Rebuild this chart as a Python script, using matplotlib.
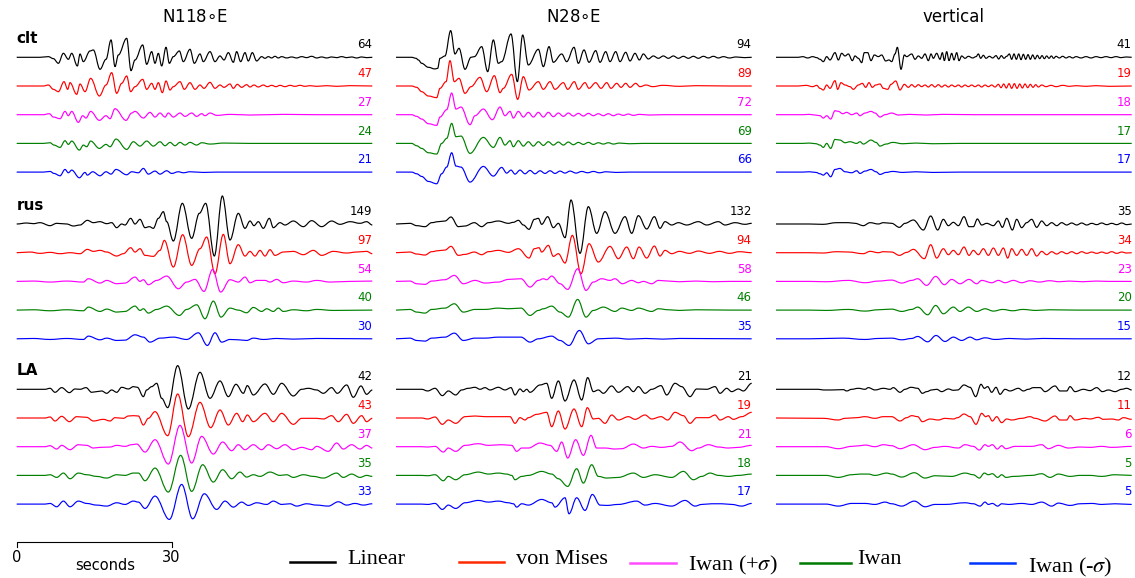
import matplotlib.pyplot as plt
from matplotlib.path import Path
from matplotlib.patches import PathPatch
from matplotlib.lines import Line2D

FS = 15.5          # digitised samples per second
N_SAMPLES = 1067   # samples per trace (about 69 s)

components = [r'N118$\circ$E', r'N28$\circ$E', 'vertical']
stations = ['clt', 'rus', 'LA']
models = ['Linear', 'von Mises', r'Iwan (+$\sigma$)', 'Iwan', r'Iwan (-$\sigma$)']

# peak values written at the right end of each trace: [component][model]
peaks_clt = [[64, 47, 27, 24, 21], [94, 89, 72, 69, 66], [41, 19, 18, 17, 17]]
peaks_rus = [[149, 97, 54, 40, 30], [132, 94, 58, 46, 35], [35, 34, 23, 20, 15]]
peaks_la = [[42, 43, 37, 35, 33], [21, 19, 21, 18, 17], [12, 11, 6, 5, 5]]

# digitised traces: (sample index, relative amplitude)
# ---- clt, N118E
clt_n118e_lin = [(0,0),(70,0),(95,2),(110,-4),(125,-18),(140,12),(155,-6),(165,12),(182,-26),(190,10),(200,-13),(220,19),(230,22),(250,-36),(268,-6),(283,52),(295,-28),(305,7),(330,57),(343,-40),(355,-8),(378,37),(390,-21),(405,17),(415,-18),(425,12),(435,-26),(448,30),(458,-18),(470,2),(488,19),(500,-13),(520,24),(533,-18),(550,10),(560,-13),(580,17),(595,-13),(610,4),(622,-8),(635,14),(650,-15),(660,17),(672,-13),(685,14),(695,-11),(707,14),(720,-11),(735,2),(745,-3),(755,2),(765,-2),(775,3),(785,-2),(795,2),(810,-2),(825,1),(840,-2),(855,2),(870,-1),(885,3),(900,-2),(915,1),(930,-2),(945,1),(960,-1),(975,2),(990,-1),(1005,1),(1020,-2),(1035,1),(1050,-1),(1067,0)]
clt_n118e_vm = [(0,0),(80,0),(95,3),(110,-10),(125,-17),(142,13),(153,-10),(160,10),(180,-25),(190,6),(205,-17),(222,23),(248,-30),(268,3),(285,40),(300,-22),(315,8),(330,30),(342,-17),(355,-2),(378,20),(390,-10),(405,8),(415,-10),(425,10),(437,-20),(448,15),(460,-12),(470,-2),(490,13),(503,-10),(520,10),(535,-10),(550,3),(562,-7),(580,11),(595,-7),(610,3),(622,-4),(640,6),(650,-7),(662,5),(675,-4),(690,4),(700,-3),(712,3),(725,-3),(740,3),(752,-2),(765,2),(778,-2),(790,2),(805,-2),(820,2),(835,-1),(850,2),(865,-1),(880,1),(900,-1),(930,1),(960,-1),(1000,1),(1067,0)]
clt_n118e_iwp = [(0,0),(80,0),(98,3),(110,-7),(130,-12),(145,10),(155,-3),(165,10),(185,-23),(198,-3),(208,-10),(222,10),(248,-17),(268,-3),(280,-12),(295,18),(328,-17),(345,5),(355,10),(380,-10),(400,7),(415,-7),(430,5),(445,-7),(455,5),(470,-7),(490,5),(505,-5),(525,5),(540,-5),(555,3),(565,-3),(580,5),(600,-2),(640,1),(700,-1),(800,1),(900,0),(1067,0)]
clt_n118e_iw = [(0,0),(80,0),(100,2),(112,-5),(130,-12),(145,8),(155,-3),(165,7),(188,-20),(200,-5),(210,-10),(222,7),(248,-15),(268,-3),(280,-10),(298,13),(330,-18),(350,5),(370,-8),(390,7),(410,-8),(430,5),(445,-7),(460,3),(475,-7),(490,3),(505,-5),(520,3),(540,-5),(555,2),(580,-2),(620,1),(700,0),(1067,0)]
clt_n118e_iwm = [(0,0),(80,0),(100,2),(112,-4),(130,-11),(145,8),(155,-2),(165,6),(188,-17),(205,-1),(212,-9),(228,1),(250,-11),(268,1),(283,-6),(298,8),(330,-8),(345,1),(365,-2),(380,11),(395,-6),(415,3),(430,-6),(450,4),(465,-4),(485,1),(500,-2),(520,1),(560,-1),(600,0),(1067,0)]
# ---- clt, N28E
clt_n28e_lin = [(0,0),(47,0),(60,-3),(67,-8),(77,-18),(97,-30),(117,-35),(125,-33),(132,-3),(147,4),(164,80),(177,10),(189,27),(207,-36),(225,0),(235,2),(257,32),(275,-43),(292,52),(307,-18),(317,-13),(345,70),(364,-73),(380,67),(397,-23),(427,24),(442,-28),(459,32),(472,-15),(497,10),(512,-13),(534,30),(547,-18),(564,22),(579,-15),(599,20),(612,-15),(629,17),(642,-13),(659,17),(672,-13),(689,15),(702,-11),(717,12),(730,-8),(742,10),(757,-5),(772,4),(787,-3),(802,4),(817,-3),(832,4),(847,-3),(862,3),(877,-3),(892,3),(907,-3),(922,3),(937,-2),(952,3),(967,-2),(982,2),(1000,-2),(1020,1),(1045,-1),(1067,0)]
clt_n28e_vm = [(0,0),(47,0),(62,-4),(77,-17),(97,-30),(122,-35),(132,-7),(150,13),(162,76),(175,13),(189,23),(207,-22),(225,-2),(252,26),(272,-17),(295,31),(312,-20),(322,-7),(347,35),(365,-40),(382,28),(399,-12),(427,13),(442,-10),(462,13),(477,-10),(502,10),(515,-10),(535,13),(547,-10),(567,10),(579,-7),(599,10),(615,-7),(632,10),(645,-7),(662,8),(675,-4),(689,8),(702,-4),(719,8),(732,-2),(750,3),(770,-2),(800,2),(850,-1),(900,1),(1000,0),(1067,0)]
clt_n28e_iwp = [(0,0),(47,0),(62,-5),(77,-13),(97,-27),(122,-32),(132,-7),(152,15),(167,65),(180,17),(195,23),(222,-30),(237,-3),(262,17),(289,-15),(312,23),(327,-3),(342,10),(352,-10),(367,10),(382,-7),(397,7),(412,-7),(427,7),(442,-7),(457,7),(472,-6),(487,5),(502,-5),(517,5),(532,-4),(547,4),(562,-4),(577,4),(592,-3),(607,3),(622,-3),(637,3),(652,-3),(667,2),(682,-2),(697,2),(712,-2),(730,1),(760,-1),(800,0),(1067,0)]
clt_n28e_iw = [(0,0),(47,0),(62,-7),(77,-15),(97,-28),(122,-32),(137,0),(152,15),(167,60),(180,20),(195,22),(222,-30),(262,18),(292,-12),(312,18),(327,-5),(342,8),(352,-10),(367,8),(382,-8),(397,5),(412,-8),(427,5),(442,-6),(457,5),(472,-5),(487,4),(502,-5),(517,4),(532,-4),(547,3),(562,-3),(577,3),(592,-3),(607,2),(622,-2),(637,2),(652,-2),(670,1),(700,-1),(740,0),(1067,0)]
clt_n28e_iwm = [(0,0),(47,0),(62,-5),(77,-13),(97,-28),(122,-35),(137,-5),(152,15),(167,58),(180,18),(195,15),(222,-30),(262,17),(292,-12),(317,14),(332,-3),(345,6),(357,-6),(372,6),(387,-5),(402,5),(417,-5),(432,4),(447,-4),(462,4),(477,-4),(492,3),(507,-3),(522,3),(540,-3),(557,2),(575,-2),(592,2),(610,-2),(630,1),(660,-1),(700,0),(1067,0)]
# ---- clt, vertical
clt_z_lin = [(0,0),(67,0),(80,2),(95,-2),(110,2),(122,-1),(132,-6),(142,-13),(152,2),(162,-8),(177,14),(187,-8),(197,12),(207,4),(217,10),(229,-10),(237,4),(247,-3),(257,-16),(265,14),(275,14),(285,-10),(295,7),(307,2),(317,7),(329,-11),(339,-8),(347,-13),(357,10),(364,30),(375,-36),(385,7),(392,2),(407,10),(417,-6),(427,4),(437,-3),(447,10),(457,-10),(465,10),(472,-3),(482,12),(492,-6),(499,14),(505,-10),(512,17),(519,-10),(527,12),(534,-8),(542,14),(549,-10),(557,4),(567,-3),(577,3),(590,-2),(600,2),(607,10),(614,-3),(622,6),(630,-3),(640,3),(650,-2),(660,5),(668,-5),(676,5),(684,-3),(692,3),(700,10),(707,-6),(714,10),(721,-6),(728,10),(735,-7),(742,9),(749,-6),(756,8),(763,-6),(770,7),(777,-5),(784,6),(791,-4),(798,5),(805,-4),(812,4),(819,-3),(826,4),(833,-3),(840,3),(850,-2),(860,3),(870,-2),(880,2),(890,-2),(900,2),(915,-2),(930,2),(945,-2),(960,2),(975,-1),(990,2),(1005,-1),(1020,2),(1035,-1),(1050,1),(1067,0)]
clt_z_vm = [(0,0),(67,0),(90,2),(110,-2),(122,2),(132,-7),(142,-12),(152,3),(162,-7),(177,16),(185,-10),(195,10),(207,3),(222,-2),(232,-10),(247,3),(259,8),(269,-4),(279,10),(289,-4),(299,3),(312,6),(322,-7),(335,-10),(345,5),(359,15),(372,-12),(385,5),(397,-4),(407,4),(417,-3),(427,4),(437,-2),(447,3),(457,-3),(467,4),(477,-3),(487,4),(497,-3),(507,3),(517,-3),(527,3),(537,-2),(547,3),(557,-3),(567,3),(577,-2),(587,3),(597,-2),(607,3),(617,-3),(627,3),(637,-2),(647,3),(657,-3),(667,5),(675,-5),(683,6),(691,-6),(699,7),(707,-7),(715,7),(723,-7),(731,6),(739,-6),(747,6),(755,-5),(763,5),(771,-4),(779,4),(787,-3),(797,3),(810,-2),(825,2),(840,-2),(860,2),(880,-1),(900,1),(930,-1),(960,1),(1000,-1),(1067,0)]
clt_z_iwp = [(0,0),(80,0),(100,1),(117,-1),(132,-3),(142,-10),(152,-3),(164,-13),(177,12),(187,10),(200,3),(212,7),(227,0),(242,5),(252,-3),(267,5),(285,10),(297,5),(312,-7),(327,0),(347,5),(367,-1),(400,1),(450,-1),(500,1),(600,0),(1067,0)]
clt_z_iw = [(0,0),(80,0),(100,1),(120,-1),(132,-5),(142,-12),(152,0),(164,-15),(177,12),(192,10),(207,2),(222,5),(242,0),(252,5),(262,-2),(285,10),(300,3),(312,-8),(330,-2),(350,3),(380,-1),(420,1),(470,-1),(550,0),(1067,0)]
clt_z_iwm = [(0,0),(80,0),(100,1),(120,-1),(132,-5),(142,-9),(152,-2),(164,-14),(177,8),(192,11),(207,1),(227,-2),(242,4),(252,-4),(267,3),(285,8),(300,1),(312,-7),(330,-1),(350,2),(380,-1),(420,1),(470,-1),(550,0),(1067,0)]
# ---- rus, N118E
rus_n118e_lin = [(0,0),(30,3),(50,1),(70,4),(100,-5),(120,2),(150,0),(170,-6),(190,-3),(212,11),(230,4),(250,7),(270,1),(285,4),(300,-11),(315,0),(325,-3),(342,17),(355,0),(370,14),(385,-11),(398,-8),(410,-13),(425,17),(440,37),(450,7),(470,-51),(497,62),(525,-43),(548,32),(567,62),(593,-96),(617,84),(640,-48),(665,32),(685,-13),(700,9),(712,-5),(725,7),(740,-13),(758,17),(770,-11),(790,4),(805,-3),(830,9),(860,-8),(885,10),(915,-8),(945,9),(970,-1),(1000,7),(1030,2),(1050,7),(1067,-3)]
rus_n118e_vm = [(0,0),(40,2),(70,-2),(100,1),(130,-3),(160,0),(190,-3),(212,10),(230,4),(250,7),(270,2),(300,-10),(320,-3),(342,15),(355,2),(370,12),(385,-8),(410,-11),(430,7),(443,37),(470,-43),(498,54),(525,-38),(550,12),(570,47),(595,-63),(620,55),(640,-33),(665,24),(685,-10),(700,4),(715,-10),(730,7),(745,-10),(760,9),(775,-8),(800,2),(830,4),(860,-6),(890,7),(915,-8),(950,4),(990,-1),(1020,2),(1050,4),(1067,-3)]
rus_n118e_iwp = [(0,0),(50,1),(100,-2),(150,1),(200,-2),(215,8),(250,-5),(270,3),(300,-7),(325,-5),(355,13),(370,0),(380,5),(395,-10),(420,3),(450,16),(485,-22),(510,-2),(535,6),(562,-30),(588,36),(612,-32),(640,5),(665,-2),(685,13),(700,-4),(720,3),(745,3),(760,-2),(780,6),(800,-4),(830,1),(870,-2),(900,3),(940,-2),(1000,0),(1067,1)]
rus_n118e_iw = [(0,0),(50,1),(100,-2),(150,1),(200,-2),(215,9),(250,-4),(270,3),(300,-6),(325,-4),(355,12),(370,-1),(380,4),(395,-9),(420,2),(450,12),(488,-16),(510,2),(540,16),(565,-26),(590,27),(613,-21),(640,6),(665,0),(690,-8),(710,8),(735,-4),(750,4),(770,-4),(785,6),(800,-4),(830,1),(870,-2),(900,2),(950,-1),(1067,0)]
rus_n118e_iwm = [(0,0),(50,1),(100,-2),(150,1),(200,-2),(215,8),(250,-3),(270,2),(300,-5),(325,-4),(355,12),(380,5),(400,-10),(430,2),(470,5),(510,-2),(545,18),(572,-20),(595,18),(615,-10),(640,-2),(665,-3),(690,-5),(710,2),(740,-2),(780,1),(830,-1),(900,1),(1067,0)]
# ---- rus, N28E
rus_n28e_lin = [(0,0),(42,2),(62,-5),(87,-8),(107,4),(127,7),(147,9),(165,21),(187,-8),(207,-6),(235,4),(257,-8),(277,4),(307,9),(337,2),(352,5),(367,11),(382,-3),(399,-16),(415,14),(427,17),(437,-1),(455,22),(472,-11),(487,2),(507,-41),(525,72),(552,-88),(577,52),(602,-28),(627,37),(657,-28),(687,22),(707,-28),(727,25),(752,-15),(775,22),(792,-13),(807,7),(827,-3),(847,4),(872,-3),(907,7),(932,-3),(967,7),(987,-3),(1017,4),(1047,-1),(1067,2)]
rus_n28e_vm = [(0,0),(42,2),(62,-4),(87,-7),(107,3),(127,6),(147,8),(165,19),(187,-8),(207,-5),(235,2),(257,-6),(277,3),(307,7),(337,1),(367,12),(399,-16),(415,12),(429,15),(437,2),(457,22),(472,-11),(487,-3),(507,-31),(529,52),(555,-63),(579,27),(607,-28),(642,19),(667,-18),(692,17),(712,-18),(729,17),(752,-16),(775,20),(792,-10),(807,7),(827,-3),(850,4),(880,-2),(907,5),(940,-2),(970,4),(1000,-2),(1030,3),(1067,0)]
rus_n28e_iwp = [(0,0),(42,1),(62,-7),(87,-9),(107,1),(147,5),(175,18),(202,-7),(237,3),(267,-5),(307,-2),(337,6),(375,8),(402,-17),(427,3),(442,8),(452,5),(467,16),(492,-7),(515,-24),(545,38),(570,-27),(592,-2),(617,8),(642,3),(657,8),(679,-7),(707,3),(727,-4),(742,0),(767,-7),(787,3),(817,1),(850,-1),(900,1),(950,-1),(1000,0),(1067,0)]
rus_n28e_iw = [(0,0),(42,2),(62,-6),(87,-9),(107,2),(147,6),(175,19),(202,-6),(237,2),(267,2),(307,6),(337,4),(375,6),(402,-16),(427,-1),(442,4),(467,12),(492,-6),(517,-21),(545,32),(570,-21),(592,-1),(622,9),(657,-4),(677,6),(707,-1),(727,6),(767,-4),(787,4),(817,1),(850,-1),(900,1),(1000,0),(1067,0)]
rus_n28e_iwm = [(0,0),(42,2),(62,-5),(87,-7),(107,2),(147,5),(175,17),(202,-5),(237,2),(267,2),(307,5),(337,5),(375,5),(402,-10),(427,0),(467,8),(492,-5),(519,-20),(550,25),(577,-15),(607,0),(657,2),(700,-1),(750,1),(800,-1),(850,1),(1067,0)]
# ---- rus, vertical
rus_z_lin = [(0,0),(100,0),(140,-1),(182,4),(217,4),(237,2),(262,-5),(282,4),(307,0),(322,4),(347,2),(370,-10),(387,2),(412,12),(442,-18),(464,24),(485,-18),(502,14),(517,-5),(532,5),(547,-5),(564,22),(579,-8),(592,-8),(604,15),(617,-3),(632,2),(652,-5),(667,9),(679,-10),(692,17),(709,-18),(722,14),(737,-11),(752,4),(767,14),(782,-10),(797,9),(812,-5),(827,4),(842,-5),(857,4),(872,-3),(887,3),(902,-3),(917,3),(932,-3),(947,2),(962,-2),(977,3),(992,-2),(1007,2),(1022,-2),(1037,3),(1052,-2),(1067,0)]
rus_z_vm = [(0,0),(100,0),(140,-1),(182,3),(217,2),(262,-3),(282,4),(307,0),(322,3),(347,2),(370,-8),(392,1),(412,10),(445,-18),(464,24),(482,-16),(502,12),(517,-6),(532,7),(547,-6),(564,17),(579,-8),(592,7),(607,-6),(622,12),(637,-8),(652,14),(667,-8),(682,14),(695,-16),(707,12),(722,-8),(737,10),(752,-8),(767,12),(782,-10),(797,4),(812,-6),(827,3),(842,-4),(857,3),(872,-3),(887,3),(902,-3),(917,3),(932,-2),(947,2),(962,-2),(977,2),(992,-2),(1007,3),(1022,-2),(1037,2),(1052,-1),(1067,0)]
rus_z_iwp = [(0,0),(100,0),(150,-1),(217,3),(267,-4),(307,1),(347,4),(377,-5),(407,3),(425,8),(452,-12),(479,15),(505,-10),(527,6),(552,-7),(579,6),(602,-7),(617,3),(647,-4),(667,3),(687,-4),(712,3),(737,-4),(762,2),(790,-2),(820,2),(850,-1),(880,1),(920,-1),(960,1),(1000,0),(1067,0)]
rus_z_iw = [(0,0),(100,0),(150,-1),(217,2),(267,-3),(307,1),(347,3),(377,-4),(407,2),(425,9),(455,-14),(479,14),(502,-11),(532,9),(552,-4),(577,9),(602,-4),(627,4),(652,-3),(680,2),(710,-2),(740,2),(780,-1),(820,1),(900,0),(1067,0)]
rus_z_iwm = [(0,0),(100,0),(150,1),(200,2),(267,-2),(307,1),(347,2),(377,-3),(407,1),(425,7),(455,-9),(480,10),(507,-8),(532,5),(557,-5),(582,5),(602,-3),(627,3),(657,-2),(700,1),(750,-1),(800,1),(900,0),(1067,0)]
# ---- LA, N118E
la_n118e_lin = [(0,0),(85,0),(100,3),(115,-9),(135,5),(158,-10),(175,1),(190,0),(208,5),(225,-9),(240,-7),(255,-5),(270,-12),(285,-2),(300,-9),(315,6),(335,1),(350,8),(362,6),(380,-22),(390,-2),(405,8),(420,18),(435,-27),(453,-55),(483,71),(515,-59),(550,51),(580,-27),(610,25),(635,-22),(658,15),(680,-12),(692,11),(710,-17),(745,16),(770,-15),(795,18),(830,-20),(855,0),(875,3),(900,-2),(920,-12),(945,5),(962,-12),(990,13),(1010,-24),(1033,10),(1050,-15),(1067,-2)]
la_n118e_vm = [(0,0),(85,0),(100,3),(115,-9),(135,5),(158,-11),(180,4),(210,2),(230,-9),(260,-4),(280,-9),(295,1),(320,-1),(335,6),(350,7),(365,6),(380,-21),(395,-1),(415,19),(453,-53),(483,72),(515,-56),(550,47),(582,-29),(610,24),(635,-21),(660,14),(678,-11),(692,9),(710,-11),(745,14),(770,-11),(795,14),(830,-19),(855,-1),(900,-1),(920,-3),(945,7),(965,-11),(990,11),(1010,-16),(1035,7),(1050,-11),(1067,-1)]
la_n118e_iwp = [(0,0),(85,0),(100,3),(120,-7),(135,4),(160,-9),(185,6),(210,4),(230,-4),(250,-2),(280,-1),(300,4),(325,1),(345,6),(360,8),(385,-16),(415,21),(455,-52),(490,64),(525,-49),(555,31),(590,-22),(618,14),(645,-12),(665,6),(685,-9),(710,6),(735,-9),(755,6),(780,-6),(805,6),(830,-9),(855,-2),(885,-9),(900,1),(935,-14),(960,11),(980,-7),(1005,6),(1030,-7),(1050,4),(1067,-4)]
la_n118e_iw = [(0,0),(85,0),(100,2),(120,-6),(140,7),(160,-10),(185,7),(210,2),(240,-3),(270,-8),(300,2),(325,0),(350,7),(365,7),(385,-16),(415,22),(455,-50),(492,60),(525,-48),(558,32),(590,-20),(618,17),(645,-10),(670,10),(690,-5),(710,2),(730,-3),(760,10),(790,0),(810,2),(830,-6),(860,2),(890,-3),(920,-8),(960,7),(980,-6),(1005,4),(1030,-6),(1050,0),(1067,-3)]
la_n118e_iwm = [(0,0),(85,0),(100,2),(120,-8),(140,9),(160,-8),(185,9),(210,2),(240,-3),(270,-6),(300,4),(325,-1),(350,9),(365,6),(385,-13),(415,24),(458,-46),(495,59),(528,-44),(563,31),(600,-16),(625,9),(650,-9),(675,6),(695,-4),(720,4),(750,-1),(770,9),(795,-1),(820,1),(840,-6),(870,1),(900,-3),(935,-6),(965,7),(990,-3),(1015,2),(1040,-3),(1067,1)]
# ---- LA, N28E
la_n28e_lin = [(0,0),(77,0),(95,-5),(117,3),(139,-19),(157,-5),(179,-17),(197,-2),(217,3),(237,6),(252,0),(267,5),(282,-2),(307,6),(327,-2),(345,5),(357,-17),(372,1),(382,-7),(392,0),(402,-9),(432,13),(452,18),(467,-27),(487,25),(507,-35),(534,28),(557,-32),(575,35),(592,-7),(607,-2),(622,-12),(647,10),(667,-9),(695,8),(712,-7),(727,8),(747,-12),(767,0),(795,11),(812,-17),(837,18),(857,8),(882,-22),(902,1),(932,0),(957,8),(972,-12),(992,3),(1007,-7),(1027,1),(1042,-5),(1067,18)]
la_n28e_vm = [(0,0),(77,0),(95,-3),(117,3),(139,-19),(157,-6),(179,-16),(207,4),(237,6),(267,4),(307,4),(342,4),(357,-16),(372,1),(387,-6),(397,1),(422,11),(452,17),(467,-26),(487,21),(507,-33),(534,27),(557,-26),(574,31),(592,-3),(607,-1),(627,-16),(647,9),(667,-6),(697,4),(717,-4),(747,9),(767,-3),(795,4),(815,-6),(837,17),(862,7),(882,-16),(902,1),(937,1),(957,9),(972,-6),(997,4),(1012,-4),(1037,4),(1067,17)]
la_n28e_iwp = [(0,0),(77,0),(95,-1),(117,1),(142,-16),(157,-4),(179,-14),(207,4),(247,9),(277,4),(317,6),(347,4),(362,-14),(377,-4),(397,-4),(432,11),(462,4),(482,-14),(497,14),(515,-34),(539,21),(562,-26),(585,34),(602,-4),(627,-4),(657,-7),(677,-6),(712,8),(742,-4),(767,1),(797,-2),(827,1),(852,14),(887,-12),(907,-4),(937,6),(967,-1),(997,-4),(1027,-2),(1067,4)]
la_n28e_iw = [(0,0),(77,0),(95,-1),(117,2),(142,-16),(157,-3),(179,-13),(207,2),(247,10),(277,4),(307,7),(332,4),(347,0),(357,-13),(377,-3),(397,0),(437,12),(467,4),(487,-10),(515,-33),(542,20),(562,-23),(587,32),(607,-3),(632,-8),(667,-6),(712,7),(742,-6),(777,2),(827,-6),(862,12),(892,-13),(917,-3),(942,7),(967,0),(997,-3),(1027,0),(1067,4)]
la_n28e_iwm = [(0,0),(77,0),(95,-1),(117,2),(139,-16),(157,-3),(179,-13),(207,4),(247,11),(277,6),(307,9),(337,4),(352,1),(362,-9),(377,1),(397,-3),(437,14),(467,4),(477,-9),(507,19),(519,-29),(542,19),(567,-19),(589,29),(612,-3),(632,-4),(667,-1),(722,9),(747,-3),(777,2),(827,-6),(867,11),(897,-6),(917,-1),(947,1),(977,1),(1007,-1),(1037,-6),(1067,2)]
# ---- LA, vertical
la_z_lin = [(0,0),(127,0),(142,-2),(167,-2),(202,-1),(212,-5),(227,0),(247,3),(267,0),(277,5),(297,-2),(322,3),(342,0),(352,5),(372,-9),(387,0),(405,6),(425,3),(439,-12),(452,-7),(467,-2),(482,0),(497,-7),(517,1),(532,-3),(545,-2),(564,13),(582,6),(599,-22),(615,15),(625,3),(635,8),(647,-9),(660,6),(672,-15),(687,0),(702,-5),(727,3),(742,-5),(757,0),(772,5),(792,5),(807,-7),(837,10),(852,-5),(872,-5),(882,8),(897,-7),(922,0),(942,-4),(962,5),(979,-7),(997,-2),(1017,-7),(1037,0),(1052,3),(1067,-2)]
la_z_vm = [(0,0),(142,-1),(187,-6),(207,-1),(242,1),(267,4),(297,-1),(322,4),(347,4),(372,-9),(392,1),(407,7),(425,4),(439,-11),(462,-3),(487,-6),(507,-1),(532,-3),(545,1),(564,12),(582,4),(600,-19),(617,14),(629,4),(637,7),(649,-9),(662,4),(677,-14),(692,-3),(707,-6),(737,-1),(762,4),(777,-1),(807,-9),(837,6),(852,-6),(872,-6),(882,7),(897,-6),(927,-1),(942,-3),(967,2),(982,-4),(1007,-3),(1027,-6),(1042,1),(1067,-4)]
la_z_iwp = [(0,0),(150,0),(187,-6),(227,1),(252,3),(267,5),(297,0),(322,6),(347,3),(372,-6),(412,6),(447,-9),(477,-2),(507,1),(547,-4),(567,6),(592,1),(610,-10),(627,6),(637,1),(649,6),(664,-7),(677,3),(689,-6),(717,1),(767,1),(797,6),(817,-6),(847,4),(877,-4),(912,-1),(942,-2),(977,1),(1007,-2),(1067,1)]
la_z_iw = [(0,0),(150,0),(187,-6),(227,2),(252,4),(277,4),(297,0),(332,7),(347,4),(377,-5),(415,8),(447,-8),(477,-1),(527,-3),(567,7),(592,2),(610,-8),(625,7),(637,2),(649,5),(665,-6),(677,2),(690,-6),(712,-3),(767,0),(797,5),(822,-6),(847,4),(882,-3),(912,0),(942,0),(977,-3),(1017,2),(1067,0)]
la_z_iwm = [(0,0),(150,0),(187,-6),(227,2),(267,2),(297,-1),(327,6),(347,1),(377,-6),(415,9),(447,-8),(477,-1),(507,-1),(567,4),(592,1),(612,-6),(627,6),(637,-1),(649,2),(665,-6),(677,1),(697,-1),(737,2),(767,-1),(797,6),(827,-6),(847,3),(882,-4),(912,1),(947,2),(977,-1),(1017,1),(1067,-1)]

traces = {
    ('clt', 0): [clt_n118e_lin, clt_n118e_vm, clt_n118e_iwp, clt_n118e_iw, clt_n118e_iwm],
    ('clt', 1): [clt_n28e_lin, clt_n28e_vm, clt_n28e_iwp, clt_n28e_iw, clt_n28e_iwm],
    ('clt', 2): [clt_z_lin, clt_z_vm, clt_z_iwp, clt_z_iw, clt_z_iwm],
    ('rus', 0): [rus_n118e_lin, rus_n118e_vm, rus_n118e_iwp, rus_n118e_iw, rus_n118e_iwm],
    ('rus', 1): [rus_n28e_lin, rus_n28e_vm, rus_n28e_iwp, rus_n28e_iw, rus_n28e_iwm],
    ('rus', 2): [rus_z_lin, rus_z_vm, rus_z_iwp, rus_z_iw, rus_z_iwm],
    ('LA', 0): [la_n118e_lin, la_n118e_vm, la_n118e_iwp, la_n118e_iw, la_n118e_iwm],
    ('LA', 1): [la_n28e_lin, la_n28e_vm, la_n28e_iwp, la_n28e_iw, la_n28e_iwm],
    ('LA', 2): [la_z_lin, la_z_vm, la_z_iwp, la_z_iw, la_z_iwm],
}
peaks = {'clt': peaks_clt, 'rus': peaks_rus, 'LA': peaks_la}

# layout (figure pixels)
W, H = 1135, 578
col_x = [(16.7, 372.3), (396.0, 751.7), (776.0, 1131.7)]
station_y = {'clt': 57.3, 'rus': 224.0, 'LA': 389.3}
trace_gap = 28.7
gain = 1 / 3.0
trace_colors = ['black', 'red', '#ff00ff', 'green', 'blue']
legend_colors = ['black', '#ff2a00', '#ff4dff', '#007a00', '#0035ff']


def smooth_path(t, y):
    verts = [(t[0], y[0])]
    codes = [Path.MOVETO]
    for i in range(1, len(t)):
        h = 0.36 * (t[i] - t[i - 1])
        verts += [(t[i - 1] + h, y[i - 1]), (t[i] - h, y[i]), (t[i], y[i])]
        codes += [Path.CURVE4] * 3
    return Path(verts, codes)


fig = plt.figure(figsize=(W / 100, H / 100), dpi=100)
tmax = N_SAMPLES / FS

axes = []
for c, (x0, x1) in enumerate(col_x):
    ax = fig.add_axes([x0 / W, 0, (x1 - x0) / W, 1])
    ax.set_xlim(0, tmax)
    ax.set_ylim(H, 0)
    ax.axis('off')
    axes.append(ax)
    ax.text(tmax / 2, 17, components[c], ha='center', va='center', fontsize=12)

    for s in stations:
        for m in range(5):
            base = station_y[s] + m * trace_gap
            pts = traces[(s, c)][m]
            t = [i / FS for i, a in pts]
            y = [base - a * gain for i, a in pts]
            ax.add_patch(PathPatch(smooth_path(t, y), fill=False,
                                   edgecolor=trace_colors[m], lw=0.85,
                                   clip_on=False))
            ax.text(tmax, base - 12.3, str(peaks[s][c][m]), ha='right',
                    va='center', fontsize=8.5, color=trace_colors[m])

for s in stations:
    axes[0].text(0, station_y[s] - 18.5, s, ha='left', va='center',
                 fontsize=11, fontweight='bold')

# time scale bar
bar_s = 30
ax = axes[0]
bar_y = 542
ax.plot([0, 0, bar_s, bar_s], [bar_y + 5, bar_y, bar_y, bar_y + 5],
        color='black', lw=0.8, clip_on=False)
ax.text(0, 558, '0', ha='center', va='center', fontsize=10.5)
ax.text(bar_s, 558, str(bar_s), ha='center', va='center', fontsize=10.5)
ax.text(17.1, 565, 'seconds', ha='center', va='center', fontsize=10.5)

# legend
leg_line_x = [(290, 335), (459, 504), (630, 676), (800, 851), (970, 1015)]
leg_line_y = [562, 562, 563, 563, 563]
leg_text_x = [347, 516, 688, 857, 1028]
leg_text_y = [560, 560, 565, 559, 567]
for k in range(5):
    xa, xb = leg_line_x[k]
    fig.add_artist(Line2D([xa / W, xb / W], [1 - leg_line_y[k] / H] * 2,
                          transform=fig.transFigure, color=legend_colors[k],
                          lw=1.8))
    fig.text(leg_text_x[k] / W, 1 - leg_text_y[k] / H, models[k],
             ha='left', va='center', fontsize=16, family='Liberation Serif',
             math_fontfamily='stix')

fig.savefig('out.png', dpi=100)
